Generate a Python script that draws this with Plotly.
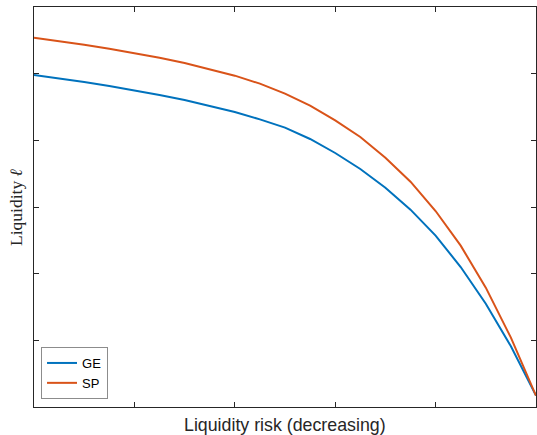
import plotly.graph_objects as go

x_vals = [0.00, 0.05, 0.10, 0.15, 0.20, 0.25, 0.30, 0.35, 0.40, 0.45, 0.50,
          0.55, 0.60, 0.65, 0.70, 0.75, 0.80, 0.85, 0.90, 0.95, 1.00]
ge_vals = [4.98, 4.93, 4.875, 4.815, 4.75, 4.68, 4.605, 4.52, 4.425, 4.315, 4.19,
           4.02, 3.81, 3.57, 3.29, 2.96, 2.57, 2.10, 1.55, 0.91, 0.17]
sp_vals = [5.54, 5.49, 5.435, 5.375, 5.31, 5.24, 5.16, 5.07, 4.97, 4.85, 4.70,
           4.52, 4.30, 4.05, 3.74, 3.38, 2.94, 2.42, 1.79, 1.04, 0.17]
series_names = ["GE", "SP"]
series_colors = ["#0072BD", "#D95319"]

x_ticks = [0, 0.2, 0.4, 0.6, 0.8, 1.0]
y_ticks = [0, 1, 2, 3, 4, 5, 6]

fig = go.Figure()
for name, vals, col in zip(series_names, [ge_vals, sp_vals], series_colors):
    fig.add_trace(go.Scatter(x=x_vals, y=vals, mode="lines", name=name,
                             line=dict(color=col, width=2)))

axis_common = dict(showgrid=False, zeroline=False, showline=True, linecolor="#262626",
                   linewidth=1, mirror="ticks", ticks="inside", ticklen=5,
                   tickcolor="#262626", tickwidth=1, showticklabels=False)

fig.update_layout(
    width=537, height=435,
    margin=dict(l=34, r=1, t=7, b=28),
    paper_bgcolor="white", plot_bgcolor="white",
    xaxis=dict(range=[0, 1], tickvals=x_ticks, **axis_common),
    yaxis=dict(range=[0, 6], tickvals=y_ticks, **axis_common),
    showlegend=True,
    legend=dict(x=0.014, y=0.02, xanchor="left", yanchor="bottom",
                bordercolor="#8c8c8c", borderwidth=1, bgcolor="white",
                font=dict(family="Liberation Sans", size=13, color="black"),
                tracegroupgap=0, itemwidth=30),
    annotations=[
        dict(text="Liquidity risk (decreasing)", xref="paper", yref="paper",
             x=0.5, y=-0.045, xanchor="center", yanchor="middle", showarrow=False,
             font=dict(family="Liberation Sans", size=17.8, color="#262626")),
        dict(text="Liquidity <i>ℓ</i>", xref="paper", yref="paper",
             x=-0.036, y=0.5, xanchor="center", yanchor="middle", showarrow=False,
             textangle=-90,
             font=dict(family="Liberation Serif", size=17.5, color="#262626")),
    ],
)

fig.write_html("out.html")
